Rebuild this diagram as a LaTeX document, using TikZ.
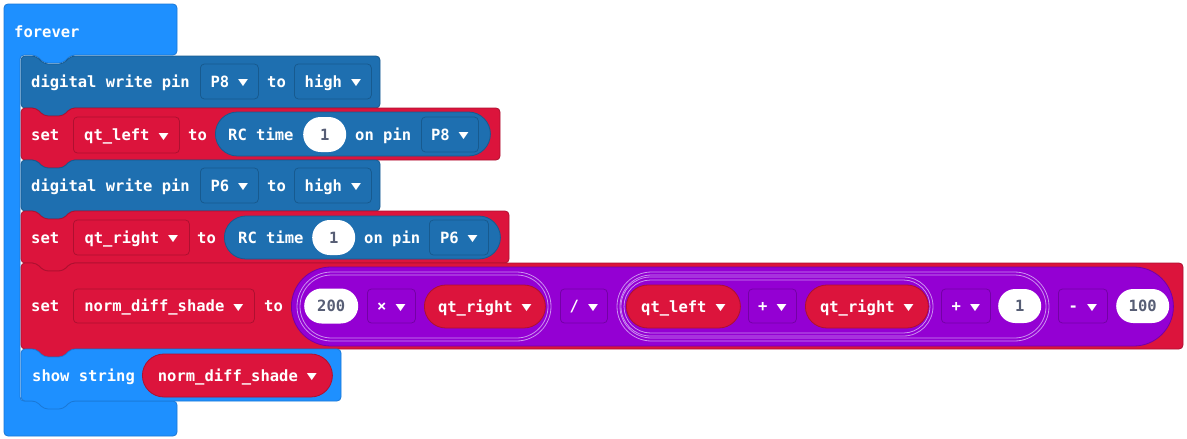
\documentclass[tikz,border=0pt]{standalone}
\usepackage{fontspec}
\newfontfamily\blkfont{DejaVu Sans Mono}
\newfontfamily\symfont{DejaVu Sans}
\definecolor{evblue}{HTML}{1E90FF}
\definecolor{evline}{HTML}{1A78D6}
\definecolor{pinblue}{HTML}{1E6FB0}
\definecolor{pinline}{HTML}{175A8F}
\definecolor{varred}{HTML}{DC143C}
\definecolor{varline}{HTML}{AE1030}
\definecolor{mathpurp}{HTML}{9400D3}
\definecolor{mathline}{HTML}{7400A6}
\definecolor{grpline}{HTML}{CC8FF0}
\definecolor{numgray}{HTML}{575E75}
\newcommand{\ddtri}{\hspace{9pt}\raisebox{1.5pt}{\resizebox{10pt}{6pt}{\symfont ▼}}}
\tikzset{
    lbl/.style={font=\blkfont\bfseries\fontsize{15.5}{16}\selectfont, text=white,
        inner sep=0pt, text height=11pt, text depth=0pt, anchor=west},
    fld/.style={lbl, draw=#1, line width=0.8pt, minimum height=35pt,
        rounded corners=4pt},
    rep/.style 2 args={lbl, fill=#1, draw=#2, line width=0.8pt,
        minimum height=43pt, rounded corners=21.5pt},
    num/.style={lbl, fill=white, text=numgray, minimum height=35pt,
        rounded corners=17.5pt},
    stmt/.style={rounded corners=4pt, line width=0.8pt},
    grp/.style={draw=grpline, line width=0.8pt}
}
\begin{document}
\begin{tikzpicture}[x=1pt, y=-1pt]
        \useasboundingbox (0,0) rectangle (1187,439);
        % forever
        \draw [stmt, fill=evblue, draw=evline] (4,4) -- (177,4) -- (177,55)
            -- (71,55) -- (63,63) -- (44,63) -- (36,55) -- (20,55) -- (20,401)
            -- (177,401) -- (177,436) -- (4,436) -- cycle;
        \node [lbl] (fv) at (14,31.5) {forever};
        % stack of blocks
        \foreach \xa/\ya/\xb/\yb/\fc/\lc in {21/56/380/108/pinblue/pinline,
            21/108/500/160/varred/varline, 21/160/380/211/pinblue/pinline,
            21/211/509/263/varred/varline, 21/263/1183/349/varred/varline,
            21/349/341/401/evblue/evline}
            \draw [stmt, fill=\fc, draw=\lc] (\xa,\ya) -- (\xa+15,\ya)
                -- (\xa+23,\ya+8) -- (\xa+42,\ya+8) -- (\xa+50,\ya) -- (\xb,\ya)
                -- (\xb,\yb) -- (\xa+50,\yb) -- (\xa+42,\yb+8) -- (\xa+23,\yb+8)
                -- (\xa+15,\yb) -- (\xa,\yb) -- cycle;

        \node [lbl] (dw1) at (31,82) {digital write pin};
        \node [fld=pinline, minimum width=58pt] (dw1pin) at (200,81.5) {P8\ddtri};
        \node [lbl] (dw1to) at (267,82) {to};
        \node [fld=pinline, minimum width=77pt] (dw1lv) at (294,81.5) {high\ddtri};

        \node [lbl] (s1) at (31,135) {set};
        \node [fld=varline, minimum width=106pt, minimum height=36pt] (s1var)
            at (73,135) {qt\_left\ddtri};
        \node [lbl] (s1to) at (188,135) {to};
        \node [rep={pinblue}{pinline}, minimum width=275pt, minimum height=44pt,
            rounded corners=22pt] (rc1) at (215,134) {};
        \node [lbl] (rc1a) at (228,134.5) {RC time};
        \node [num, minimum width=43pt] (rc1n) at (303,134.5) {1};
        \node [lbl] (rc1b) at (355,134.5) {on pin};
        \node [fld=pinline, minimum width=57pt] (rc1pin) at (421,134.5) {P8\ddtri};

        \node [lbl] (dw2) at (31,186) {digital write pin};
        \node [fld=pinline, minimum width=58pt] (dw2pin) at (200,185.5) {P6\ddtri};
        \node [lbl] (dw2to) at (267,186) {to};
        \node [fld=pinline, minimum width=77pt] (dw2lv) at (294,185.5) {high\ddtri};

        \node [lbl] (s2) at (31,238) {set};
        \node [fld=varline, minimum width=116pt] (s2var) at (73,237.5) {qt\_right\ddtri};
        \node [lbl] (s2to) at (197,238) {to};
        \node [rep={pinblue}{pinline}, minimum width=276pt] (rc2) at (224,237.5) {};
        \node [lbl] (rc2a) at (238,238) {RC time};
        \node [num, minimum width=43pt] (rc2n) at (312,237.5) {1};
        \node [lbl] (rc2b) at (364,238) {on pin};
        \node [fld=pinline, minimum width=59pt] (rc2pin) at (429,237.5) {P6\ddtri};

        \node [lbl] (s3) at (31,306) {set};
        \node [fld=varline, minimum width=181pt, minimum height=34pt] (s3var)
            at (73,306) {norm\_diff\_shade\ddtri};
        \node [lbl] (s3to) at (264,306) {to};
        \node [rep={mathpurp}{mathline}, minimum width=882pt, minimum height=79pt,
            rounded corners=39.5pt] (expr) at (291,306.5) {};
        % group outlines
        \draw [grp, rounded corners=34.5pt] (297,272) rectangle (551,341);
        \draw [grp, rounded corners=31.5pt] (300,275) rectangle (548,338);
        \draw [grp, rounded corners=34.5pt] (617,272) rectangle (1049,341);
        \draw [grp, rounded corners=31.5pt] (620,275) rectangle (1046,338);
        \draw [grp, rounded corners=29.5pt] (621,277) rectangle (933,336);
        \draw [grp, rounded corners=26.5pt] (624,280) rectangle (930,333);

        \node [num, minimum width=54pt] (n200) at (304,306) {200};
        \node [fld=mathline, minimum width=48pt, minimum height=34pt] (opmul)
            at (367,306) {×\ddtri};
        \node [rep={varred}{varline}, minimum width=121pt] (qr1) at (424,306.5)
            {qt\_right\ddtri};
        \node [fld=mathline, minimum width=47pt, minimum height=34pt] (opdiv)
            at (560,306) {/\ddtri};
        \node [rep={varred}{varline}, minimum width=114pt] (ql) at (626,306.5)
            {qt\_left\ddtri};
        \node [fld=mathline, minimum width=48pt, minimum height=34pt] (opadd1)
            at (748,306) {+\ddtri};
        \node [rep={varred}{varline}, minimum width=123pt] (qr2) at (805,306.5)
            {qt\_right\ddtri};
        \node [fld=mathline, minimum width=49pt, minimum height=34pt] (opadd2)
            at (941,306) {+\ddtri};
        \node [num, minimum width=43pt, minimum height=34pt, rounded corners=17pt]
            (n1) at (998,306) {1};
        \node [fld=mathline, minimum width=49pt, minimum height=34pt] (opsub)
            at (1058,306) {-\ddtri};
        \node [num, minimum width=53pt, minimum height=34pt, rounded corners=17pt]
            (n100) at (1116,306) {100};

        \node [lbl] (sh) at (32,376) {show string};
        \node [rep={varred}{varline}, minimum width=190pt] (shv) at (142,375.5)
            {norm\_diff\_shade\ddtri};
    \end{tikzpicture}
\end{document}
